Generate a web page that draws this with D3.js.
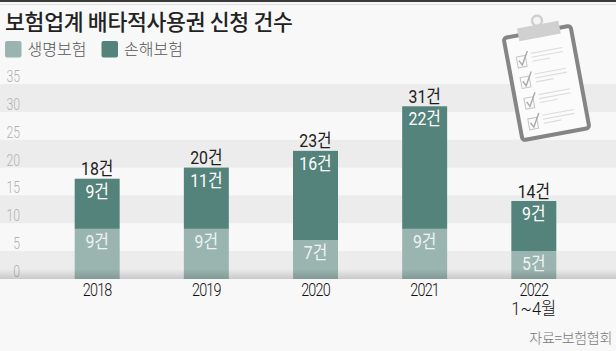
<!DOCTYPE html>
<html><head><meta charset="utf-8">
<script src="https://cdn.jsdelivr.net/npm/d3@7/dist/d3.min.js"></script>
<style>html,body{margin:0;padding:0;background:#f8f8f8}svg{display:block}text{font-family:Roboto,"Noto Sans CJK KR","Noto Sans",sans-serif}</style>
</head><body><svg id="c" width="616" height="351"></svg>
<script>
const years=["2018","2019","2020","2021","2022"];
const life=[9,9,7,9,5];
const nonlife=[9,11,16,22,9];
const totals=[18,20,23,31,14];
const yTicks=[0,5,10,15,20,25,30,35];
const seriesNames=["생명보험","손해보험"];
const seriesColors=["#9ab5b0","#54837b"];
const titleText="보험업계 배타적사용권 신청 건수";
const sourceText="자료=보험협회";
const unit="건";

const svg=d3.select("#c");
const W=616,H=351;
const y=d3.scaleLinear().domain([0,35]).range([279,84]);
const x=d3.scaleBand().domain(years).range([10.5,620.5]).padding(0.588);

svg.append("rect").attr("width",W).attr("height",H).attr("fill","#f8f8f8");
svg.append("rect").attr("width",W).attr("height",2).attr("fill","#3a3a3a");
svg.append("rect").attr("y",4).attr("width",W).attr("height",1).attr("fill","#dedede");

const bands=[[0,5],[10,15],[20,25],[30,35]];
svg.selectAll("rect.band").data(bands).join("rect").attr("class","band")
 .attr("x",0).attr("width",W).attr("y",d=>y(d[1])).attr("height",d=>y(d[0])-y(d[1])).attr("fill","#ececec");

const yAxis=d3.axisLeft(y).tickValues(yTicks).tickSize(0).tickPadding(0);
const gy=svg.append("g").attr("transform","translate(20,-8)").call(yAxis);
gy.select(".domain").remove();
gy.selectAll("text").attr("font-size",17).attr("font-weight",300).attr("fill","#b0b0b0").attr("text-anchor","end").attr("x",0).attr("transform","scale(.72,1)");

const stack=years.map((yr,i)=>({yr,a:life[i],b:nonlife[i],t:totals[i]}));
const g=svg.selectAll("g.bar").data(stack).join("g").attr("class","bar");
g.append("rect").attr("x",d=>x(d.yr)).attr("width",x.bandwidth()).attr("y",d=>y(d.a)).attr("height",d=>y(0)-y(d.a)).attr("fill",seriesColors[0]);
g.append("rect").attr("x",d=>x(d.yr)).attr("width",x.bandwidth()).attr("y",d=>y(d.a+d.b)).attr("height",d=>y(d.a)-y(d.a+d.b)).attr("fill",seriesColors[1]);

const defs=svg.append("defs");
const grad=defs.append("linearGradient").attr("id","sh").attr("x1",0).attr("x2",0).attr("y1",0).attr("y2",1);
grad.append("stop").attr("offset",0).attr("stop-color","#000").attr("stop-opacity",0);
grad.append("stop").attr("offset",1).attr("stop-color","#000").attr("stop-opacity",0.15);
svg.append("rect").attr("x",0).attr("y",y(0)-10).attr("width",W).attr("height",10).attr("fill","url(#sh)");

const cx=d=>x(d.yr)+x.bandwidth()/2;
const lab=(sel,yf)=>sel.attr("text-anchor","middle").attr("font-size",18).attr("transform",d=>`translate(${cx(d)},${yf(d)}) scale(.88,1)`);
g.append("text").call(lab,d=>y(d.a+d.b)-3.5).attr("fill","#1c1c1c").text(d=>d.t+unit);
g.append("text").call(lab,d=>y(d.a+d.b)+19).attr("fill","#fff").text(d=>d.b+unit);
g.append("text").call(lab,d=>y(d.a)+19).attr("fill","#eef3f2").text(d=>d.a+unit);

const xAxis=d3.axisBottom(x).tickSize(0).tickPadding(0);
const gx=svg.append("g").attr("transform","translate(0,279)").call(xAxis);
gx.select(".domain").remove();
gx.selectAll("text").attr("font-size",18).attr("font-weight",300).attr("fill","#111").attr("y",4).attr("letter-spacing",-1).attr("transform","scale(.8,1)");
svg.append("text").attr("text-anchor","middle").attr("transform",`translate(${x("2022")+x.bandwidth()/2},315) scale(.92,1)`).attr("font-size",18).attr("font-weight",300).attr("fill","#111").text("1~4월");

svg.append("text").attr("x",5).attr("y",30).style("font-family",'"Noto Sans CJK KR"').attr("font-size",21.6).attr("font-weight",500).attr("fill","#222").attr("letter-spacing",-0.3).text(titleText);
const lx=[5,101.5];
const lg=svg.selectAll("g.leg").data(seriesNames).join("g").attr("class","leg");
lg.append("rect").attr("x",(d,i)=>lx[i]).attr("y",41).attr("width",16.5).attr("height",16.5).attr("rx",2).attr("fill",(d,i)=>seriesColors[i]);
lg.append("text").attr("x",(d,i)=>lx[i]+22.5).attr("y",55).style("font-family",'"Noto Sans CJK KR"').attr("font-size",16).attr("font-weight",300).attr("fill","#555").text(d=>d);

svg.append("text").attr("x",612).attr("y",343).attr("text-anchor","end").style("font-family",'"Noto Sans CJK KR"').attr("font-size",14).attr("font-weight",300).attr("fill","#777").attr("letter-spacing",-0.3).text(sourceText);

// clipboard icon
const ic=svg.append("g").attr("transform","translate(546.5,83) rotate(-10.5)");
ic.append("rect").attr("x",-34).attr("y",-52).attr("width",68).attr("height",104).attr("rx",3).attr("fill","#fbfbfb").attr("stroke","#858585").attr("stroke-width",4);
ic.append("rect").attr("x",-19).attr("y",-59).attr("width",42).attr("height",13).attr("fill","#d0d0d0");
ic.append("circle").attr("cx",2).attr("cy",-63).attr("r",5).attr("fill","#f4f4f4").attr("stroke","#cfcfcf").attr("stroke-width",2.5);
[0,1,2,3].forEach(i=>{
 const t=-31+i*21;
 ic.append("rect").attr("x",-25).attr("y",t).attr("width",9).attr("height",11).attr("fill","none").attr("stroke","#c4c4c4").attr("stroke-width",1);
 ic.append("path").attr("d",`M-23 ${t+4}L-20.5 ${t+9}L-13 ${t-4}`).attr("fill","none").attr("stroke","#a9a9a9").attr("stroke-width",1.4);
 ic.append("path").attr("d",`M-10 ${t-1}H22M-10 ${t+3}H22M-10 ${t+7}H8`).attr("stroke","#dcdcdc").attr("stroke-width",1.1);
});
</script></body></html>
